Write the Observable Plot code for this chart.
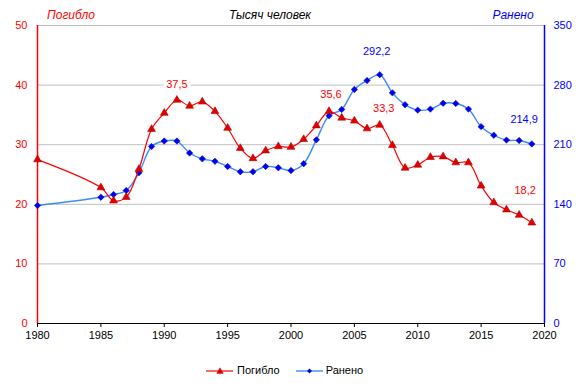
<!DOCTYPE html>
<html><head><meta charset="utf-8">
<script src="https://cdn.jsdelivr.net/npm/d3@7"></script>
<script src="https://cdn.jsdelivr.net/npm/@observablehq/plot@0.6"></script>
<style>
body{margin:0;background:#fff;}
#wrap{position:relative;width:579px;height:391px;font-family:"Liberation Sans",Arial,sans-serif;overflow:hidden;}
#chart{position:absolute;left:0;top:0;}
.t{position:absolute;font-size:12px;font-style:italic;white-space:nowrap;transform:translateX(-50%);line-height:14px;}
#legend{position:absolute;top:364px;left:206px;font-size:11px;display:flex;align-items:center;line-height:13px;}
#legend svg{display:block;}
</style></head>
<body>
<div id="wrap"><div id="chart"></div>
<div class="t" style="left:71px;top:8px;color:#ff0000">Погибло</div>
<div class="t" style="left:270px;top:8px;color:#000">Тысяч человек</div>
<div class="t" style="left:513px;top:8px;color:#0000ff">Ранено</div>
<div id="legend">
<svg width="28" height="10"><line x1="0" x2="27" y1="5" y2="5" stroke="#ff0000" stroke-width="1.2"/><path d="M14,1.8L17.2,7.4L10.8,7.4Z" fill="#e00000" stroke="#c00000" stroke-width="0.5"/></svg>
<span style="margin-left:3px">Погибло</span>
<svg width="28" height="10" style="margin-left:16px"><line x1="0" x2="27" y1="5" y2="5" stroke="#3d8bff" stroke-width="1.4"/><path d="M13.5,2.5L16,5L13.5,7.5L11,5Z" fill="#0000ee"/></svg>
<span style="margin-left:2px">Ранено</span>
</div>
</div>
<script>
const years = [1980, 1985, 1986, 1987, 1988, 1989, 1990, 1991, 1992, 1993, 1994, 1995, 1996, 1997, 1998, 1999,
  2000, 2001, 2002, 2003, 2004, 2005, 2006, 2007, 2008, 2009, 2010, 2011, 2012, 2013, 2014, 2015, 2016, 2017, 2018, 2019];
// Погибло, тысяч человек
const killed = [27.5, 22.8, 20.6, 21.2, 25.9, 32.6, 35.3, 37.5, 36.5, 37.2, 35.6, 32.8, 29.4, 27.7, 29.0, 29.7,
  29.6, 30.9, 33.2, 35.6, 34.5, 34.0, 32.7, 33.3, 29.9, 26.1, 26.6, 27.9, 28.0, 27.0, 27.0, 23.1, 20.3, 19.1, 18.2, 16.9];
// Ранено, тысяч человек
const injured = [138.6, 148.3, 151.5, 156.2, 177.0, 207.9, 214.3, 214.3, 200.2, 193.4, 190.5, 184.4, 178.2, 178.2, 184.4, 182.9,
  179.6, 187.7, 215.7, 243.9, 251.4, 274.9, 285.4, 292.2, 270.9, 257.0, 250.6, 251.8, 258.6, 258.4, 251.8, 231.2, 221.1, 215.4, 214.9, 210.9];
const xTicks = [1980, 1985, 1990, 1995, 2000, 2005, 2010, 2015, 2020];
const leftTicks = [0, 10, 20, 30, 40, 50];
const rightTicks = [0, 70, 140, 210, 280, 350];
const killedLabelYears = [1991, 2003, 2007, 2018];
const injuredLabelYears = [2007, 2018];

const ratio = 350 / 50;
const table = years.map((year, i) => ({year, killed: killed[i], injured: injured[i]}));
const fmt = v => v.toFixed(1).replace(".", ",");
const font = "Liberation Sans, Arial, sans-serif";

const labelOffsets = {k1991: [0, -16], k2003: [2, -17], k2007: [4, -17], k2018: [6, -25], i2007: [-3, -23], i2018: [5, -21]};

const labelMarks = [];
for (const y of killedLabelYears) {
  const [dx, dy] = labelOffsets["k" + y];
  labelMarks.push(Plot.text(table.filter(d => d.year === y), {
    x: "year", y: "killed", text: d => fmt(d.killed), dx, dy,
    fill: "#ff0000", stroke: "white", strokeWidth: 6, paintOrder: "stroke", fontSize: 11
  }));
}
for (const y of injuredLabelYears) {
  const [dx, dy] = labelOffsets["i" + y];
  labelMarks.push(Plot.text(table.filter(d => d.year === y), {
    x: "year", y: d => d.injured / ratio, text: d => fmt(d.injured), dx, dy,
    fill: "#0000ff", stroke: "white", strokeWidth: 6, paintOrder: "stroke", fontSize: 11
  }));
}

const chart = Plot.plot({
  width: 579, height: 391,
  marginTop: 25, marginBottom: 68, marginLeft: 37, marginRight: 35,
  style: {fontFamily: font, fontSize: "11px", background: "#fff"},
  x: {domain: [1980, 2020], label: null},
  y: {domain: [0, 50], label: null},
  marks: [
    Plot.gridY(leftTicks.filter(d => d > 0), {stroke: "#c0c0c0", strokeOpacity: 1}),
    Plot.axisX(xTicks, {tickFormat: d => String(d), tickSize: 4, tickPadding: 4, fontSize: 11, color: "#000", label: null}),
    Plot.axisY(leftTicks, {anchor: "left", tickSize: 0, tickPadding: 10, fontSize: 11, color: "#ff0000", label: null}),
    Plot.axisY(rightTicks.map(d => d / ratio), {anchor: "right", tickSize: 0, tickPadding: 9, fontSize: 11, color: "#0000ff",
      tickFormat: d => String(Math.round(d * ratio)), label: null}),
    Plot.ruleY([0], {stroke: "#000"}),
    Plot.ruleX([1980], {stroke: "#ff0000", strokeWidth: 1.5}),
    Plot.ruleX([2020], {stroke: "#0000ff", strokeWidth: 1.5}),
    Plot.line(table, {x: "year", y: d => d.injured / ratio, stroke: "#3d8bff", strokeWidth: 1.4, curve: "catmull-rom"}),
    Plot.dot(table, {x: "year", y: d => d.injured / ratio, symbol: "diamond2", r: 2.9, fill: "#0000ee", stroke: "#0000cc", strokeWidth: 0.5}),
    Plot.line(table, {x: "year", y: "killed", stroke: "#ff0000", strokeWidth: 1.2, curve: "catmull-rom"}),
    Plot.dot(table, {x: "year", y: "killed", symbol: "triangle", r: 2.9, fill: "#e00000", stroke: "#b00000", strokeWidth: 0.6}),
    ...labelMarks
  ]
});
document.getElementById("chart").appendChild(chart);
</script>
</body></html>
